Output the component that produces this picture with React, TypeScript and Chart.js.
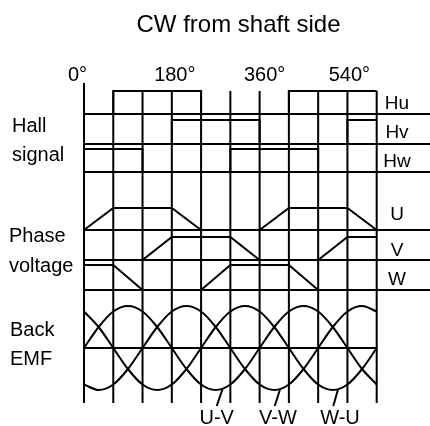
import React, { useEffect, useRef } from 'react';
import { Chart, registerables } from 'chart.js';

Chart.register(...registerables);

// ---------- data ----------
const TITLE = 'CW from shaft side';
const ANGLE_TICKS = [0, 180, 360, 540];
const ANGLE_TICK_LABELS = ['0°', '180°', '360°', '540°'];
const STEP_ANGLES = [0, 60, 120, 180, 240, 300, 360, 420, 480, 540, 600];

// Hall sensor states for each 60° segment (1 = high)
const HALL_U = [0, 1, 1, 1, 0, 0, 0, 1, 1, 1];
const HALL_V = [0, 0, 0, 1, 1, 1, 0, 0, 0, 1];
const HALL_W = [1, 1, 0, 0, 0, 1, 1, 1, 0, 0];
const HALL_LABELS = ['Hu', 'Hv', 'Hw'];

// Phase voltage level at each 60° boundary
const PHASE_U = [0, 1, 1, 1, 0, 0, 0, 1, 1, 1, 0];
const PHASE_V = [0, 0, 0, 1, 1, 1, 0, 0, 0, 1, 1];
const PHASE_W = [1, 1, 0, 0, 0, 1, 1, 1, 0, 0, 0];
const PHASE_LABELS = ['U', 'V', 'W'];

// Back EMF readings every 30°
const EMF_ANGLES = [0, 30, 60, 90, 120, 150, 180, 210, 240, 270, 300, 330, 360, 390, 420, 450, 480, 510, 540, 570, 600];
const EMF_UV = [0, 0.5, 0.87, 1, 0.87, 0.5, 0, -0.5, -0.87, -1, -0.87, -0.5, 0, 0.5, 0.87, 1, 0.87, 0.5, 0, -0.5, -0.87];
const EMF_VW = [-0.87, -1, -0.87, -0.5, 0, 0.5, 0.87, 1, 0.87, 0.5, 0, -0.5, -0.87, -1, -0.87, -0.5, 0, 0.5, 0.87, 1, 0.87];
const EMF_WU = [0.87, 0.5, 0, -0.5, -0.87, -1, -0.87, -0.5, 0, 0.5, 0.87, 1, 0.87, 0.5, 0, -0.5, -0.87, -1, -0.87, -0.5, 0];
const EMF_LABELS = ['U-V', 'V-W', 'W-U'];

const SECTION_LABELS = [['Hall', 'signal'], ['Phase', 'voltage'], ['Back', 'EMF']];

// ---------- layout (diagram units, y grows downward) ----------
const PAD_LEFT = 84;
const PAD_RIGHT = 53.3;
const X_EXTEND = 720; // horizontal baselines run past the right edge
const HALL_ROWS = [{ base: 114, amp: 23 }, { base: 144, amp: 24 }, { base: 172, amp: 23 }];
const PHASE_ROWS = [{ base: 230, amp: 22 }, { base: 260, amp: 23 }, { base: 290, amp: 25 }];
const EMF_ROW = { base: 348, amp: 42 };
const GRID_TOP = 91;
const GRID_TOP_ZERO = 83;
const GRID_BOTTOM = 403;
const LEADERS = [
  { from: [284, 389], to: [272, 406] },
  { from: [402, 389], to: [391, 406] },
  { from: [521, 389], to: [511, 406] },
];
const TICK_DX = [-6.5, 3, 5, 2];
const TICK_Y = 81;
const RIGHT_LABEL_X = 397;
const HALL_LABEL_Y = [109, 138, 167];
const PHASE_LABEL_Y = [220, 256, 285];
const EMF_LABEL_X = [216.7, 278, 340];
const EMF_LABEL_Y = 424;
const SECTION_POS = [
  { x: 12, y: [132, 161] },
  { x: 9, y: [242, 272] },
  { x: 10, y: [336, 365] },
];

const FONT = '"Liberation Sans", Arial, Helvetica, sans-serif';

const line = (data: { x: number; y: number }[], extra: any = {}) => ({
  data,
  borderColor: '#000',
  borderWidth: 2,
  pointRadius: 0,
  fill: false,
  tension: 0,
  clip: false,
  ...extra,
});

const diagramPlugin = {
  id: 'diagram',
  beforeDatasetsDraw(chart: any) {
    const { ctx, scales } = chart;
    const x = scales.x;
    const y = scales.y;
    ctx.save();
    ctx.strokeStyle = '#000';
    ctx.lineWidth = 2;
    for (const a of STEP_ANGLES) {
      const px = x.getPixelForValue(a);
      ctx.beginPath();
      ctx.moveTo(px, y.getPixelForValue(a === 0 ? GRID_TOP_ZERO : GRID_TOP));
      ctx.lineTo(px, y.getPixelForValue(GRID_BOTTOM));
      ctx.stroke();
    }
    ctx.restore();
  },
  afterDraw(chart: any) {
    const { ctx, scales } = chart;
    const x = scales.x;
    ctx.save();
    ctx.fillStyle = '#000';
    ctx.textBaseline = 'alphabetic';

    ctx.font = `24px ${FONT}`;
    ctx.textAlign = 'center';
    ctx.fillText(TITLE, 238.5, 32);

    ctx.font = `20px ${FONT}`;
    ANGLE_TICKS.forEach((a, i) => {
      ctx.fillText(ANGLE_TICK_LABELS[i], x.getPixelForValue(a) + TICK_DX[i], TICK_Y);
    });

    ctx.font = `19px ${FONT}`;
    HALL_LABELS.forEach((t, i) => ctx.fillText(t, RIGHT_LABEL_X, HALL_LABEL_Y[i]));
    PHASE_LABELS.forEach((t, i) => ctx.fillText(t, RIGHT_LABEL_X, PHASE_LABEL_Y[i]));

    ctx.font = `20px ${FONT}`;
    EMF_LABELS.forEach((t, i) => ctx.fillText(t, EMF_LABEL_X[i], EMF_LABEL_Y));

    ctx.textAlign = 'left';
    SECTION_LABELS.forEach((lines, i) => {
      lines.forEach((t, j) => ctx.fillText(t, SECTION_POS[i].x, SECTION_POS[i].y[j]));
    });
    ctx.restore();
  },
};

export default function App() {
  const ref = useRef<HTMLCanvasElement | null>(null);

  useEffect(() => {
    document.body.style.margin = '0';
    const canvas = ref.current;
    if (!canvas) return;

    const datasets: any[] = [];

    // Hall signals
    [HALL_U, HALL_V, HALL_W].forEach((states, i) => {
      const row = HALL_ROWS[i];
      datasets.push(line([{ x: 0, y: row.base }, { x: X_EXTEND, y: row.base }]));
      const pts = states.map((s, k) => ({ x: STEP_ANGLES[k], y: row.base - s * row.amp }));
      pts.push({ x: 600, y: row.base - states[states.length - 1] * row.amp });
      datasets.push(line(pts, { stepped: true }));
    });

    // Phase voltages
    [PHASE_U, PHASE_V, PHASE_W].forEach((levels, i) => {
      const row = PHASE_ROWS[i];
      datasets.push(line([{ x: 0, y: row.base }, { x: X_EXTEND, y: row.base }]));
      datasets.push(line(levels.map((l, k) => ({ x: STEP_ANGLES[k], y: row.base - l * row.amp }))));
    });

    // Back EMF
    datasets.push(line([{ x: 0, y: EMF_ROW.base }, { x: 600, y: EMF_ROW.base }]));
    [EMF_UV, EMF_VW, EMF_WU].forEach((vals) => {
      datasets.push(
        line(
          vals.map((v, k) => ({ x: EMF_ANGLES[k], y: EMF_ROW.base - v * EMF_ROW.amp })),
          { cubicInterpolationMode: 'monotone' }
        )
      );
    });

    // Leader lines for back EMF labels
    LEADERS.forEach((l) => {
      datasets.push(line([{ x: l.from[0], y: l.from[1] }, { x: l.to[0], y: l.to[1] }]));
    });

    const chart = new Chart(canvas, {
      type: 'line',
      data: { datasets },
      options: {
        animation: false,
        responsive: false,
        devicePixelRatio: 1,
        layout: { padding: { left: PAD_LEFT, right: PAD_RIGHT, top: 0, bottom: 0 } },
        plugins: { legend: { display: false }, tooltip: { enabled: false }, title: { display: false } },
        events: [],
        scales: {
          x: { type: 'linear', min: 0, max: 600, display: false },
          y: { type: 'linear', min: 0, max: 426, reverse: true, display: false },
        },
        elements: { line: { borderJoinStyle: 'miter', borderCapStyle: 'butt' } },
      },
      plugins: [diagramPlugin],
    });

    return () => chart.destroy();
  }, []);

  return (
    <div style={{ position: 'fixed', left: 0, top: 0, width: 430, height: 426, background: '#fff' }}>
      <canvas ref={ref} width={430} height={426} style={{ width: 430, height: 426, display: 'block' }} />
    </div>
  );
}
